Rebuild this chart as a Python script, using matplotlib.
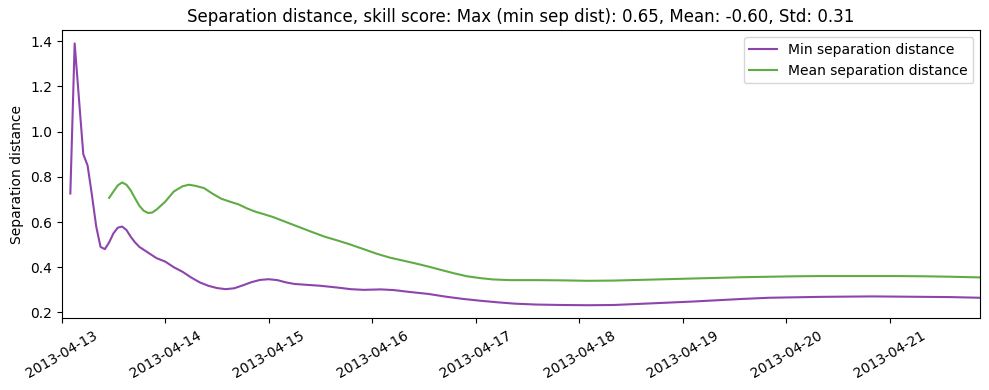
import pandas as pd
import matplotlib
matplotlib.use('Agg')
import matplotlib.pyplot as plt
import matplotlib.dates as mdates

# Hours after 2013-04-13 00:00 and the values
min_hours = [2, 3, 5, 6, 7, 8, 9, 10, 11, 12, 13, 14, 15, 16, 17, 18, 20, 22, 24,
             26, 28, 30, 32, 34, 36, 38, 40, 42, 44, 46, 48, 50, 52, 54, 57, 60,
             64, 67, 70, 74, 77, 81, 85, 89, 93, 97, 101, 105, 110, 116, 122, 128,
             134, 140, 146, 152, 158, 164, 170, 176, 182, 188, 194, 200, 206, 213]
min_sep = [0.726, 1.39, 0.90, 0.85, 0.72, 0.58, 0.49, 0.48, 0.51, 0.55, 0.575, 0.58,
           0.565, 0.535, 0.51, 0.49, 0.465, 0.44, 0.425, 0.40, 0.38, 0.355, 0.333,
           0.318, 0.308, 0.303, 0.307, 0.32, 0.334, 0.344, 0.347, 0.343, 0.333,
           0.326, 0.322, 0.318, 0.31, 0.303, 0.30, 0.302, 0.299, 0.29, 0.282, 0.27,
           0.26, 0.252, 0.245, 0.239, 0.235, 0.233, 0.232, 0.233, 0.238, 0.243,
           0.248, 0.254, 0.26, 0.265, 0.267, 0.269, 0.27, 0.271, 0.27, 0.269,
           0.268, 0.265]

mean_hours = [11, 12, 13, 14, 15, 16, 17, 18, 19, 20, 21, 22, 24, 26, 28, 29.5, 31,
              33, 35, 37, 39, 41, 43, 45, 47, 49, 52, 55, 58, 61, 64, 67, 70, 73,
              76, 79, 82, 85, 88, 91, 94, 97, 100, 104, 110, 116, 122, 128, 134,
              140, 146, 152, 158, 164, 170, 176, 182, 188, 194, 200, 206, 213]
mean_sep = [0.707, 0.735, 0.762, 0.775, 0.765, 0.74, 0.705, 0.672, 0.65, 0.64, 0.642,
            0.655, 0.69, 0.735, 0.758, 0.765, 0.76, 0.75, 0.725, 0.703, 0.69, 0.678,
            0.66, 0.645, 0.634, 0.622, 0.60, 0.578, 0.556, 0.535, 0.518, 0.50, 0.48,
            0.46, 0.443, 0.43, 0.417, 0.403, 0.388, 0.373, 0.36, 0.352, 0.346,
            0.343, 0.343, 0.342, 0.34, 0.341, 0.344, 0.347, 0.35, 0.353, 0.356,
            0.358, 0.36, 0.361, 0.361, 0.361, 0.361, 0.36, 0.358, 0.355]

start = pd.Timestamp('2013-04-13 00:00')
min_times = start + pd.to_timedelta(min_hours, unit='h')
mean_times = start + pd.to_timedelta(mean_hours, unit='h')

fig, ax = plt.subplots(figsize=(9.89, 3.9), dpi=100)

ax.plot(min_times, min_sep, color='#8e44ad', label='Min separation distance')
ax.plot(mean_times, mean_sep, color='#60ac44', label='Mean separation distance')

ax.set_xlim(start, pd.Timestamp('2013-04-21 21:00'))
ax.xaxis.set_major_locator(mdates.DayLocator())
ax.xaxis.set_major_formatter(mdates.DateFormatter('%Y-%m-%d'))
plt.xticks(rotation=30)

ax.set_ylabel('Separation distance')
ax.set_title('Separation distance, skill score: Max (min sep dist): 0.65, Mean: -0.60, Std: 0.31')
ax.legend(loc='upper right')

# Axes box placed to match the reference layout
fig.subplots_adjust(left=0.0624, right=0.9912, top=0.9223, bottom=0.1838)
fig.savefig('out.png')
